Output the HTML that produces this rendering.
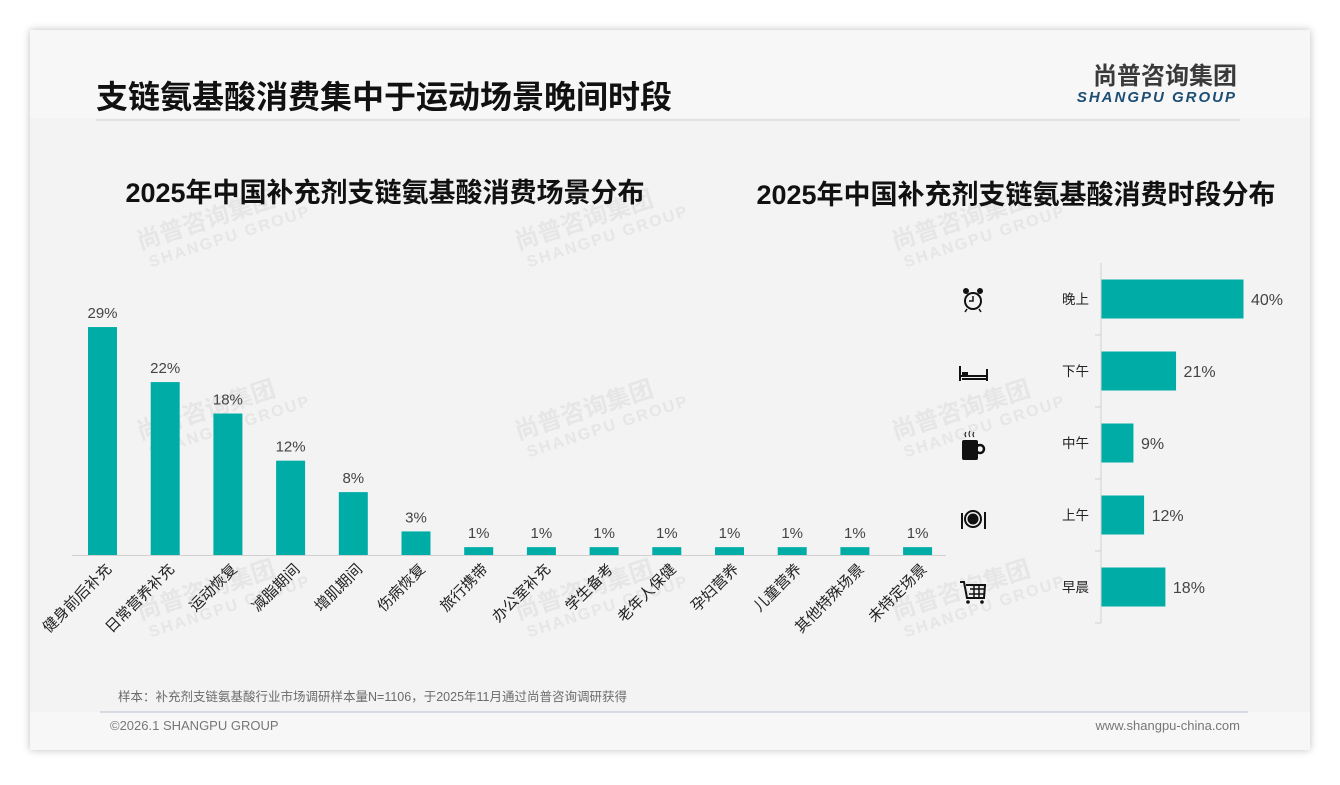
<!DOCTYPE html>
<html><head><meta charset="utf-8">
<style>
html,body{margin:0;padding:0;background:#fff;}
body{width:1340px;height:780px;position:relative;overflow:hidden;font-family:"Liberation Sans","Noto Sans CJK SC",sans-serif;}
svg text{font-family:"Liberation Sans","Noto Sans CJK SC",sans-serif;}
</style></head>
<body>
<svg width="1340" height="780" viewBox="0 0 1340 780">
<defs><filter id="sh" x="-5%" y="-5%" width="110%" height="110%"><feDropShadow dx="0" dy="0" stdDeviation="4" flood-color="#000" flood-opacity="0.25"/></filter></defs>
<rect x="30" y="30" width="1280" height="720" fill="#f3f3f3" filter="url(#sh)"/>
<rect x="30" y="30" width="1280" height="88" fill="#f7f7f7"/>
<text x="96" y="108" font-size="32" font-weight="bold" fill="#111">支链氨基酸消费集中于运动场景晚间时段</text>
<line x1="96" y1="120" x2="1240" y2="120" stroke="#dcdcdc" stroke-width="1.5"/>
<text x="1237" y="84" font-size="24" font-weight="bold" fill="#3a3a3a" text-anchor="end">尚普咨询集团</text>
<text x="1237" y="102" font-size="15" font-weight="bold" font-style="italic" fill="#1d4e73" text-anchor="end" letter-spacing="2">SHANGPU GROUP</text>
<g fill="#e6e6e6" font-weight="bold">
<g transform="translate(140,250) rotate(-18)"><text font-size="24">尚普咨询集团</text><text x="5" y="20" font-size="16" letter-spacing="2">SHANGPU GROUP</text></g>
<g transform="translate(518,250) rotate(-18)"><text font-size="24">尚普咨询集团</text><text x="5" y="20" font-size="16" letter-spacing="2">SHANGPU GROUP</text></g>
<g transform="translate(895,250) rotate(-18)"><text font-size="24">尚普咨询集团</text><text x="5" y="20" font-size="16" letter-spacing="2">SHANGPU GROUP</text></g>
<g transform="translate(140,440) rotate(-18)"><text font-size="24">尚普咨询集团</text><text x="5" y="20" font-size="16" letter-spacing="2">SHANGPU GROUP</text></g>
<g transform="translate(518,440) rotate(-18)"><text font-size="24">尚普咨询集团</text><text x="5" y="20" font-size="16" letter-spacing="2">SHANGPU GROUP</text></g>
<g transform="translate(895,440) rotate(-18)"><text font-size="24">尚普咨询集团</text><text x="5" y="20" font-size="16" letter-spacing="2">SHANGPU GROUP</text></g>
<g transform="translate(140,620) rotate(-18)"><text font-size="24">尚普咨询集团</text><text x="5" y="20" font-size="16" letter-spacing="2">SHANGPU GROUP</text></g>
<g transform="translate(518,620) rotate(-18)"><text font-size="24">尚普咨询集团</text><text x="5" y="20" font-size="16" letter-spacing="2">SHANGPU GROUP</text></g>
<g transform="translate(895,620) rotate(-18)"><text font-size="24">尚普咨询集团</text><text x="5" y="20" font-size="16" letter-spacing="2">SHANGPU GROUP</text></g>
</g>
<text x="385" y="202" font-size="27" font-weight="bold" fill="#111" text-anchor="middle">2025年中国补充剂支链氨基酸消费场景分布</text>
<text x="1016" y="204" font-size="27" font-weight="bold" fill="#111" text-anchor="middle">2025年中国补充剂支链氨基酸消费时段分布</text>
<line x1="72" y1="555.5" x2="946" y2="555.5" stroke="#d0d0d0"/>
<g id="left"></g>
<line x1="1101" y1="263" x2="1101" y2="623" stroke="#d0d0d0"/>
<g id="right"></g>
<g fill="#111" stroke="#111">
<g><circle cx="973" cy="301" r="8" fill="none" stroke-width="2"/><path d="M973 296v5h-4" fill="none" stroke-width="1.5"/><circle cx="966" cy="291" r="3" stroke="none"/><circle cx="980" cy="291" r="3" stroke="none"/><path d="M967 309l-2 3M979 309l2 3" stroke-width="1.5"/></g>
<g><path d="M960 366v15M987 369v12M960 376h27" fill="none" stroke-width="2"/><rect x="962" y="372" width="6" height="3" stroke="none"/><path d="M962 379h25" stroke-width="2"/></g>
<g><rect x="962" y="440" width="16" height="20" rx="2" stroke="none"/><circle cx="980" cy="449" r="4" fill="none" stroke-width="2.5"/><path d="M966 432q-2 3 0 5M970 431q-2 3 0 6M974 432q-2 3 0 5" fill="none" stroke-width="1"/></g>
<g><circle cx="973" cy="519" r="8" fill="none" stroke-width="2"/><circle cx="973" cy="519" r="5.5" stroke="none"/><path d="M962 513v16M985 512v17" fill="none" stroke-width="2"/></g>
<g><path d="M960 582h4l3 16h17l1-13h-19" fill="none" stroke-width="2"/><path d="M970 589h14M969 594h15M974 585v13M979 585v13" fill="none" stroke-width="1.5"/><circle cx="968" cy="602" r="1.8" stroke="none"/><circle cx="982" cy="602" r="1.8" stroke="none"/></g>
</g>
<text x="118" y="701" font-size="12.5" fill="#6b6b6b">样本：补充剂支链氨基酸行业市场调研样本量N=1106，于2025年11月通过尚普咨询调研获得</text>
<rect x="30" y="712" width="1280" height="38" fill="#f7f7f7"/>
<line x1="100" y1="712" x2="1248" y2="712" stroke="#b6c0cc" stroke-width="1"/>
<text x="110" y="730" font-size="13" fill="#777">©2026.1 SHANGPU GROUP</text>
<text x="1240" y="730" font-size="13" fill="#777" text-anchor="end">www.shangpu-china.com</text>
</svg>
<script>
const sceneCategories=["健身前后补充","日常营养补充","运动恢复","减脂期间","增肌期间","伤病恢复","旅行携带","办公室补充","学生备考","老年人保健","孕妇营养","儿童营养","其他特殊场景","未特定场景"];
const sceneValues=[29,22,18,12,8,3,1,1,1,1,1,1,1,1];
const timeCategories=["晚上","下午","中午","上午","早晨"];
const timeValues=[40,21,9,12,18];
const NS="http://www.w3.org/2000/svg";
function mk(tag,attrs,parent){const e=document.createElementNS(NS,tag);for(const k in attrs)e.setAttribute(k,attrs[k]);parent.appendChild(e);return e;}
const left=document.getElementById('left');
const yL=v=>555-v*7.86;
const xL=i=>102.5+i*62.7;
sceneCategories.forEach((c,i)=>{
  const v=sceneValues[i];
  const r=mk('rect',{x:xL(i)-14.5,y:yL(v),width:29,height:555-yL(v),fill:'#00ada6'},left);
  
  
  const t=mk('text',{x:xL(i),y:yL(v)-9,'font-size':15,fill:'#444','text-anchor':'middle'},left);
  t.textContent=v+'%';
  
  
  const l=mk('text',{transform:'translate('+(xL(i)+10)+',570) rotate(-45)','font-size':15,fill:'#222','text-anchor':'end'},left);
  l.textContent=c;
  
  
});
const right=document.getElementById('right');
const xR=v=>1101+v*3.55;
const yR=i=>299+i*72;
timeCategories.forEach((c,i)=>{
  const v=timeValues[i];
  mk('line',{x1:1095,x2:1101,y1:yR(i)+36,y2:yR(i)+36,stroke:'#d0d0d0'},right);
  const r=mk('rect',{x:1101.5,y:yR(i)-19.5,width:xR(v)-1101,height:39,fill:'#00ada6'},right);
  
  
  const t=mk('text',{x:xR(v)+8,y:yR(i)+6,'font-size':16,fill:'#444'},right);
  t.textContent=v+'%';
  
  
  const l=mk('text',{x:1089,y:yR(i)+5,'font-size':13.5,fill:'#222','text-anchor':'end'},right);
  l.textContent=c;
  
  
});
</script>
</body></html>
